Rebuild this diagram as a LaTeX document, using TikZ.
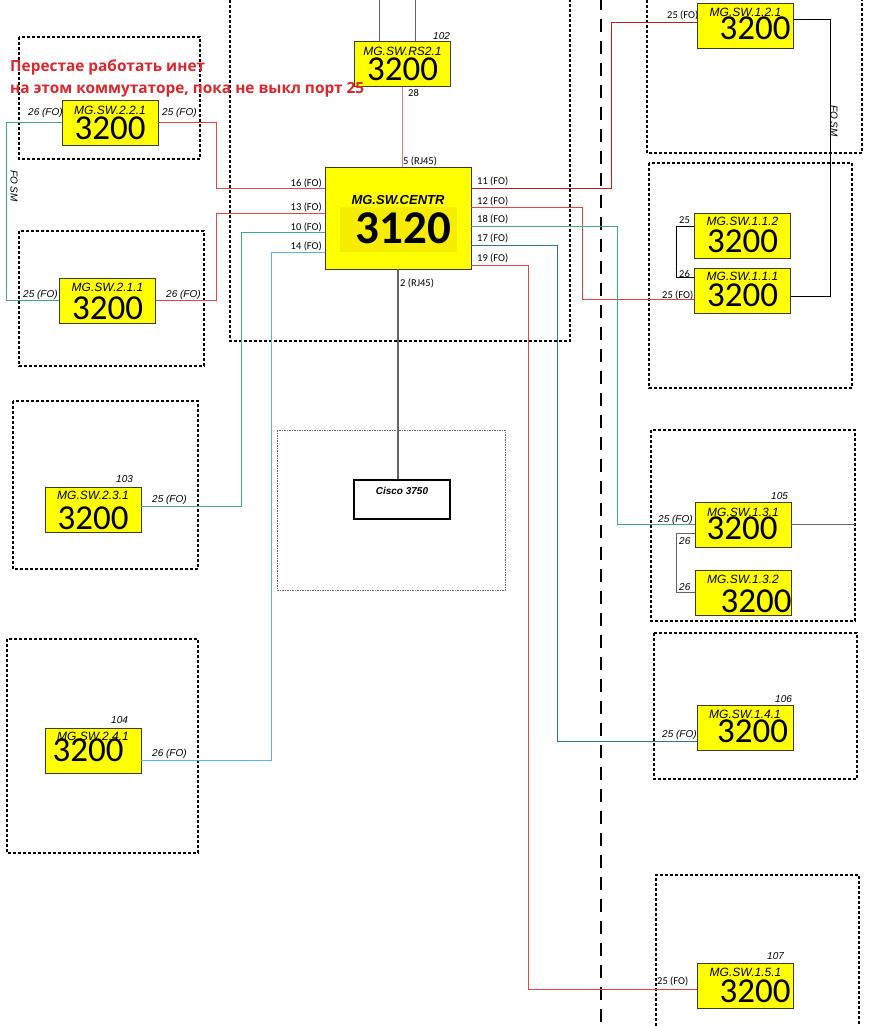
\documentclass[tikz,border=0pt]{standalone}
\usepackage{fontspec}
\setmainfont{Liberation Sans}
\newfontfamily\carl{Carlito}
\newfontfamily\osans{Open Sans}
\definecolor{swyellow}{RGB}{255,255,0}
\definecolor{swinner}{RGB}{246,236,0}
\definecolor{swborder}{RGB}{60,60,40}
\definecolor{lred}{RGB}{225,70,70}
\definecolor{dred}{RGB}{175,35,35}
\definecolor{pred}{RGB}{235,120,120}
\definecolor{lgreen}{RGB}{60,175,120}
\definecolor{lblue}{RGB}{90,180,215}
\definecolor{tealc}{RGB}{40,120,150}
\definecolor{wgray}{RGB}{100,100,100}
\definecolor{notered}{RGB}{215,40,45}
\newcommand\swnode[7]{%
  \node[sw] (#1) at (#2,#3) {};
  \node[swt] (#1t) at ([yshift=-#5pt]#1.north) {#4};
  \node[swn] (#1n) at ([xshift=#7pt,yshift=-#6pt]#1.north) {3200};
}
\begin{document}
\begin{tikzpicture}[x=1pt,y=-1pt,
  sw/.style={draw=swborder, fill=swyellow, line width=0.9pt, inner sep=0pt, minimum width=96pt, minimum height=45pt},
  swt/.style={anchor=base, inner sep=0pt, font=\fontsize{12}{12}\selectfont\itshape},
  swn/.style={anchor=base, inner sep=0pt, font=\carl\fontsize{35}{35}\selectfont},
  lbl/.style={inner sep=0pt, font=\fontsize{10}{10}\selectfont\itshape},
  plbl/.style={inner sep=0pt, font=\carl\fontsize{10.5}{10}\selectfont},
  dbox/.style={draw=black, line width=1.6pt, dash pattern=on 3pt off 2pt},
  wire/.style={line width=0.9pt},
  ann/.style={inner sep=0pt, anchor=base west, text=notered, font=\osans\bfseries\fontsize{15.4}{15.4}\selectfont}]
\useasboundingbox (0,0) rectangle (872,1026);
\fill[white] (0,0) rectangle (872,1026);

% dashed zone boxes
\draw[dbox] (230,-5) -- (230,341) -- (570,341) -- (570,-5);
\draw[dbox] (647,-5) -- (647,153) -- (862,153) -- (862,-5);
\draw[dbox] (19,37) rectangle (200,159);
\draw[dbox] (19,231) rectangle (204,366);
\draw[dbox] (13,401) rectangle (198,569);
\draw[dbox] (7,639) rectangle (198,853);
\draw[dbox] (649,163) rectangle (852,388);
\draw[dbox] (651,430) rectangle (855,621);
\draw[dbox] (654,633) rectangle (857,779);
\draw[dbox] (656,1031) -- (656,875) -- (859,875) -- (859,1031);
\draw[draw=wgray, line width=0.9pt, dash pattern=on 1.5pt off 1pt] (277,430) rectangle (505,590);
\draw[black, line width=2.4pt, dash pattern=on 13pt off 9pt] (601,-3) -- (601,1030);

% switches
\node[sw, minimum width=146pt, minimum height=102pt] (centr) at (398,218) {};
\fill[swinner] (340,207) rectangle (457,252);
\node[anchor=base, inner sep=0pt, font=\fontsize{13}{13}\selectfont\bfseries\itshape] (centrt) at ([yshift=-38pt]centr.north) {MG.SW.CENTR};
\node[anchor=base, inner sep=0pt, font=\carl\fontsize{47}{47}\selectfont\bfseries] (centrn) at ([xshift=5.5pt,yshift=-77pt]centr.north) {3120};

\swnode{rs}{402.5}{64}{MG.SW.RS2.1}{14}{39}{0}
\swnode{sw221}{110}{122.5}{MG.SW.2.2.1}{15}{40}{0}
\swnode{sw211}{107.5}{300.5}{MG.SW.2.1.1}{14}{42}{0}
\swnode{sw231}{93}{509.5}{MG.SW.2.3.1}{13}{43}{0}
\swnode{sw241}{93}{750.5}{MG.SW.2.4.1}{13}{34}{-5}
\swnode{sw121}{745.5}{25.5}{MG.SW.1.2.1}{14}{37}{9.5}
\swnode{sw112}{742.5}{235.5}{MG.SW.1.1.2}{13}{40}{0}
\swnode{sw111}{742.5}{290.5}{MG.SW.1.1.1}{13}{39}{0}
\swnode{sw131}{743}{524.5}{MG.SW.1.3.1}{15}{38}{-1}
\swnode{sw132}{743}{592.5}{MG.SW.1.3.2}{14}{43}{13}
\swnode{sw141}{745}{728}{MG.SW.1.4.1}{13}{37}{7.5}
\swnode{sw151}{745.5}{985.5}{MG.SW.1.5.1}{14}{40}{9.5}

\node[draw=black, fill=white, line width=1.6pt, minimum width=96pt, minimum height=39pt, inner sep=0pt] (cisco) at (402,499.5) {};
\node[anchor=base, inner sep=0pt, font=\fontsize{10}{10}\selectfont\bfseries\itshape] (ciscot) at ([yshift=-15pt]cisco.north) {Cisco 3750};

% connectors
\draw[wire, wgray] ([xshift=-23.5pt]rs.north) -- ++(0,-45);
\draw[wire, wgray] ([xshift=12.5pt]rs.north) -- ++(0,-45);
\draw[wire, pred] (rs.south) -- (rs.south |- centr.north);
\draw[wire, wgray, line width=1.2pt] (centr.south) -- (centr.south |- cisco.north);
\draw[wire, lred] ([yshift=30pt]centr.west) -- ++(-108,0) |- (sw221.east);
\draw[wire, lred] ([yshift=5pt]centr.west) -- ++(-108,0) |- (sw211.east);
\draw[wire, lgreen] ([yshift=-14pt]centr.west) -- ++(-83,0) |- ([yshift=3pt]sw231.east);
\draw[wire, lblue] ([yshift=-34pt]centr.west) -- ++(-53,0) |- ([yshift=-9.5pt]sw241.east);
\draw[wire, dred] ([yshift=30pt]centr.east) -- ++(140,0) |- ([yshift=3pt]sw121.west);
\draw[wire, lred] ([yshift=11pt]centr.east) -- ++(111,0) |- ([yshift=-8.5pt]sw111.west);
\draw[wire, lgreen] ([yshift=-8pt]centr.east) -- ++(146,0) |- (sw131.west);
\draw[wire, tealc] ([yshift=-27pt]centr.east) -- ++(86,0) |- ([yshift=-13pt]sw141.west);
\draw[wire, lred] ([yshift=-47pt]centr.east) -- ++(57,0) |- ([yshift=-3.5pt]sw151.west);
\draw[wire, lgreen] (sw221.west) -- ++(-55,0) |- (sw211.west);
\draw[wire, black] ([yshift=6.5pt]sw121.east) -- ++(36,0) |- ([yshift=-5.5pt]sw111.east);
\draw[wire, black] ([yshift=9.5pt]sw112.west) -- ++(-18,0) |- ([yshift=13.5pt]sw111.west);
\draw[wire, wgray] (sw131.east) -- ++(64,0);
\draw[wire, wgray] ([yshift=-8.5pt]sw131.west) -- ++(-18,0) |- (sw132.west);

% port labels central
\node[plbl, anchor=base west] (l5) at (403,164) {5 (RJ45)};
\node[plbl, anchor=base west] (l2) at (400,286) {2 (RJ45)};
\node[plbl, anchor=base west] (l28) at (408,96) {28};
\node[plbl, anchor=base east] (l16) at (322,186) {16 (FO)};
\node[plbl, anchor=base east] (l13) at (322,210) {13 (FO)};
\node[plbl, anchor=base east] (l10) at (322,230) {10 (FO)};
\node[plbl, anchor=base east] (l14) at (322,249) {14 (FO)};
\node[plbl, anchor=base west] (l11) at (477,184) {11 (FO)};
\node[plbl, anchor=base west] (l12) at (477,204) {12 (FO)};
\node[plbl, anchor=base west] (l18) at (477,222) {18 (FO)};
\node[plbl, anchor=base west] (l17) at (477,241) {17 (FO)};
\node[plbl, anchor=base west] (l19) at (477,261) {19 (FO)};

% italic labels
\node[lbl, anchor=base west] (n102) at (433,39) {102};
\node[lbl, anchor=base west] (a1) at (28,115) {26 (FO)};
\node[lbl, anchor=base west] (a2) at (162,115) {25 (FO)};
\node[lbl, anchor=base west] (a3) at (23,297) {25 (FO)};
\node[lbl, anchor=base west] (a4) at (166,297) {26 (FO)};
\node[lbl, anchor=base west] (n103) at (116,482) {103};
\node[lbl, anchor=base west] (a5) at (152,502) {25 (FO)};
\node[lbl, anchor=base west] (n104) at (111,723) {104};
\node[lbl, anchor=base west] (a6) at (152,756) {26 (FO)};
\node[plbl, anchor=base west] (b1) at (667,18) {25 (FO)};
\node[plbl, anchor=base west] (b2) at (679,223) {25};
\node[plbl, anchor=base west] (b3) at (679,277) {26};
\node[plbl, anchor=base west] (b4) at (662,298) {25 (FO)};
\node[lbl, anchor=base west] (n105) at (771,499) {105};
\node[lbl, anchor=base west] (b5) at (658,522) {25 (FO)};
\node[lbl, anchor=base west] (b6) at (679,544) {26};
\node[lbl, anchor=base west] (b7) at (679,590) {26};
\node[lbl, anchor=base west] (n106) at (775,702) {106};
\node[lbl, anchor=base west] (b8) at (662,737) {25 (FO)};
\node[lbl, anchor=base west] (n107) at (767,959) {107};
\node[plbl, anchor=base west] (b9) at (657,984) {25 (FO)};
\node[lbl, rotate=-90] (fosm1) at (14,186) {FO SM};
\node[lbl, rotate=-90] (fosm2) at (834,121) {FO SM};

% annotation
\node[ann] (note1) at (10,71) {Перестае работать инет};
\node[ann] (note2) at (10,93) {на этом коммутаторе, пока не выкл порт 25};
\end{tikzpicture}
\end{document}
